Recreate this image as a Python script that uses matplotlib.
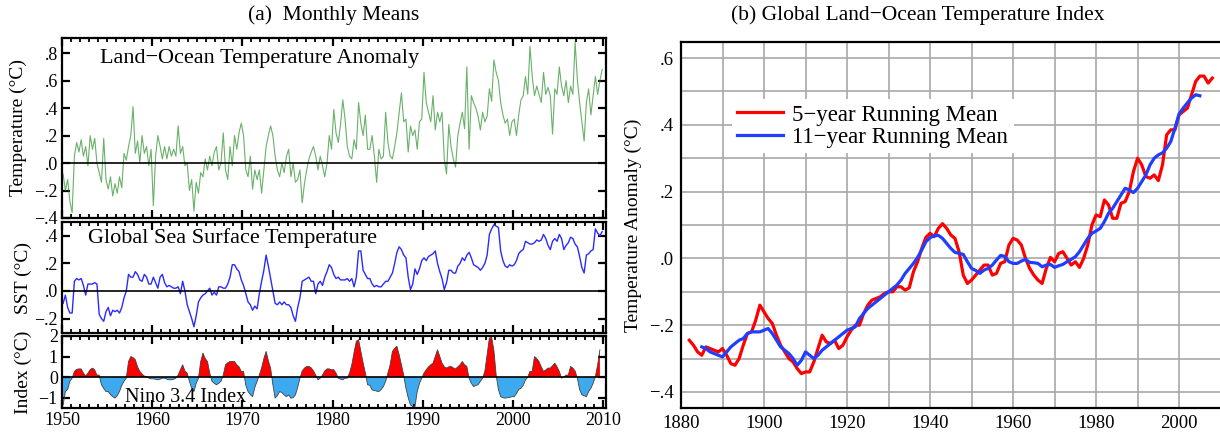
import numpy as np
import matplotlib
matplotlib.use("Agg")
from matplotlib import pyplot as plt
from matplotlib.ticker import MultipleLocator, FuncFormatter

plt.rcParams['font.family'] = ['Liberation Serif', 'DejaVu Serif']

# quarterly values, starting 1950
START = 1950
lo_anom = [
    -0.08, -0.20, -0.12, -0.28,  -0.36, 0.05, 0.15, 0.08,   0.17, 0.05, 0.12, -0.02,
    0.20, 0.10, 0.18, 0.00,      -0.07, -0.14, 0.18, -0.12,  -0.19, -0.10, -0.24, -0.15,
    -0.22, -0.10, -0.18, 0.07,   0.02, 0.12, 0.20, 0.41,    0.07, 0.16, 0.00, 0.20,
    0.07, 0.12, -0.02, 0.10,     -0.31, 0.05, 0.20, 0.12,   0.03, 0.12, 0.03, 0.12,
    0.05, 0.10, 0.05, 0.27,      0.07, 0.12, -0.02, 0.00,   -0.20, -0.12, -0.35, -0.14,
    -0.22, -0.07, -0.10, 0.03,   -0.05, 0.05, -0.02, 0.08,  0.12, -0.05, 0.00, 0.22,
    -0.05, -0.12, 0.12, -0.02,   0.20, 0.10, 0.22, 0.29,    0.20, -0.05, -0.10, 0.05,
    -0.19, -0.05, -0.12, -0.05,  -0.22, -0.05, 0.12, 0.20,  0.27, 0.20, 0.05, -0.05,
    -0.10, 0.00, -0.07, 0.05,    0.10, -0.10, 0.00, -0.14,  -0.12, -0.05, -0.29, -0.15,
    -0.05, 0.03, 0.08, 0.12,     0.05, -0.05, 0.05, -0.02,  -0.10, 0.00, 0.20, 0.10,
    0.39, 0.22, 0.15, 0.28,      0.46, 0.32, 0.12, 0.05,    0.03, 0.17, 0.10, 0.44,
    0.29, 0.20, 0.35, 0.10,      0.10, 0.20, 0.05, -0.14,   0.10, 0.03, 0.05, 0.37,
    0.15, 0.05, 0.03, 0.12,      0.22, 0.37, 0.51, 0.30,    0.32, 0.08, 0.27, 0.20,
    0.24, 0.10, 0.30, 0.32,      0.66, 0.44, 0.37, 0.30,    0.49, 0.24, 0.37, 0.30,
    0.37, 0.03, -0.08, 0.28,     0.12, 0.03, -0.03, 0.20,   0.29, 0.37, 0.25, 0.70,
    0.10, 0.49, 0.44, 0.40,      0.34, 0.24, 0.37, 0.30,    0.34, 0.54, 0.45, 0.75,
    0.66, 0.60, 0.44, 0.35,      0.29, 0.32, 0.20, 0.30,    0.32, 0.20, 0.35, 0.46,
    0.49, 0.63, 0.50, 0.85,      0.63, 0.49, 0.56, 0.50,    0.44, 0.66, 0.50, 0.55,
    0.49, 0.21, 0.54, 0.50,      0.70, 0.56, 0.49, 0.60,    0.44, 0.56, 0.50, 0.88,
    0.61, 0.44, 0.30, 0.16,      0.44, 0.54, 0.35, 0.49,    0.63, 0.50, 0.60, 0.68,
]
sst = [
    -0.09, -0.03, -0.12, -0.16,  -0.16, 0.07, 0.09, 0.08,   0.09, 0.04, -0.03, 0.05,
    0.05, 0.05, 0.06, 0.05,      -0.17, -0.20, -0.22, -0.15, -0.12, -0.18, -0.14, -0.15,
    -0.14, -0.16, -0.12, -0.05,  0.00, 0.12, 0.10, 0.10,    0.14, 0.12, 0.08, 0.07,
    0.12, 0.10, 0.05, 0.05,      0.10, 0.06, 0.02, 0.10,    0.12, 0.06, 0.03, 0.04,
    0.03, 0.02, 0.02, 0.03,      -0.02, 0.07, 0.00, -0.10,  -0.15, -0.20, -0.26, -0.18,
    -0.08, -0.05, -0.03, -0.02,  0.00, 0.02, -0.03, -0.01,  -0.03, 0.03, 0.03, 0.02,
    0.02, 0.05, 0.10, 0.19,      0.19, 0.16, 0.14, 0.08,    0.04, -0.02, -0.08, -0.10,
    -0.14, -0.11, -0.13, -0.02,  0.07, 0.15, 0.26, 0.18,    0.09, 0.00, -0.09, -0.10,
    -0.08, -0.10, -0.08, -0.10,  -0.10, -0.12, -0.18, -0.22, -0.12, -0.05, 0.07, 0.08,
    0.09, 0.10, 0.07, 0.07,      -0.02, 0.05, 0.07, 0.04,   0.10, 0.14, 0.19, 0.17,
    0.12, 0.09, 0.10, 0.08,      0.08, 0.08, 0.09, 0.07,    0.09, 0.03, 0.10, 0.29,
    0.29, 0.15, 0.12, 0.09,      0.09, 0.05, 0.03, 0.04,    0.03, 0.03, 0.05, 0.07,
    0.07, 0.10, 0.13, 0.20,      0.28, 0.32, 0.30, 0.26,    0.24, 0.10, 0.01, 0.05,
    0.16, 0.12, 0.16, 0.22,      0.24, 0.22, 0.25, 0.26,    0.27, 0.29, 0.20, 0.14,
    0.09, 0.01, 0.06, 0.15,      0.15, 0.13, 0.13, 0.18,    0.20, 0.24, 0.22, 0.26,
    0.28, 0.24, 0.19, 0.18,      0.17, 0.15, 0.17, 0.20,    0.26, 0.41, 0.45, 0.48,
    0.47, 0.46, 0.29, 0.22,      0.18, 0.17, 0.19, 0.18,    0.19, 0.22, 0.27, 0.29,
    0.30, 0.36, 0.35, 0.34,      0.34, 0.35, 0.37, 0.36,    0.37, 0.41, 0.38, 0.33,
    0.30, 0.36, 0.38, 0.36,      0.41, 0.38, 0.30, 0.33,    0.35, 0.39, 0.38, 0.34,
    0.32, 0.25, 0.17, 0.13,      0.26, 0.27, 0.29, 0.30,    0.45, 0.42, 0.40, 0.43,
]
nino = [
    -1.35, -0.70, -0.60, -0.20,  -0.05, 0.28, 0.38, 0.40,   0.40, 0.20, 0.05, 0.20,
    0.36, 0.44, 0.35, 0.10,      0.10, -0.37, -0.55, -0.70, -0.70, -0.85, -0.95, -1.02,
    -0.90, -0.70, -0.40, -0.20,  -0.05, 0.76, 1.00, 0.95,   0.85, 0.50, 0.28, 0.15,
    0.05, 0.03, -0.05, -0.08,    -0.08, -0.10, -0.13, -0.10, -0.05, -0.05, -0.10, -0.13,
    -0.13, -0.10, -0.05, 0.10,   0.36, 0.60, 0.30, 0.20,    -0.20, -0.54, -0.70, -0.30,
    -0.05, 0.76, 1.17, 0.90,     0.76, 0.20, -0.20, -0.30,  -0.37, -0.30, -0.20, 0.10,
    0.60, 0.70, 0.76, 0.76,      0.76, 0.60, 0.50, 0.28,    0.28, -0.40, -0.70, -0.85,
    -0.95, -0.50, -0.20, 0.10,   0.44, 0.90, 1.25, 0.80,    0.44, -0.37, -1.02, -0.90,
    -0.70, -0.75, -0.86, -0.95,  -0.86, -1.02, -1.00, -0.86, -0.50, -0.05, 0.30, 0.44,
    0.52, 0.52, 0.45, 0.30,      0.10, -0.13, -0.05, 0.10,  0.30, 0.40, 0.40, 0.36,
    0.36, 0.20, -0.05, -0.10,    -0.13, -0.05, -0.05, 0.20, 0.60, 1.20, 1.74, 1.82,
    1.25, 0.70, 0.20, -0.37,     -0.40, -0.62, -0.65, -0.68, -0.70, -0.60, -0.46, -0.20,
    0.20, 0.60, 1.25, 1.40,      1.50, 1.09, 0.60, 0.10,    -0.54, -1.00, -1.35, -1.43,
    -1.43, -0.70, -0.30, -0.05,  0.20, 0.36, 0.50, 0.60,    0.68, 1.00, 1.33, 1.00,
    0.68, 0.50, 0.44, 0.50,      0.52, 0.45, 0.40, 0.50,    0.60, 0.76, 0.60, 0.52,
    -0.05, -0.30, -0.46, -0.40,  -0.37, -0.20, -0.05, 0.30, 1.09, 1.90, 1.93, 1.30,
    0.10, -0.60, -0.95, -1.00,   -1.02, -1.00, -0.98, -0.95, -0.95, -0.80, -0.60, -0.54,
    -0.40, -0.13, 0.00, 0.28,    0.28, 1.00, 0.90, 0.76,    0.50, 0.28, 0.35, 0.44,
    0.44, 0.55, 0.68, 0.50,      0.28, -0.05, 0.00, 0.10,   0.10, 0.52, 0.44, 0.30,
    -0.05, -0.60, -0.86, -0.90,  -0.95, -0.70, -0.54, -0.30, 0.03, 0.60, 1.33,
]

# panel (b): running means, one value per year
rm5_years = list(range(1882, 2009))
rm5 = [
    -0.245, -0.26, -0.28, -0.29, -0.265, -0.27, -0.275, -0.28, -0.27, -0.29,
    -0.315, -0.32, -0.30, -0.26, -0.225, -0.22, -0.185, -0.14, -0.16, -0.18,
    -0.195, -0.23, -0.26, -0.28, -0.30, -0.31, -0.33, -0.345, -0.34, -0.34,
    -0.31, -0.27, -0.23, -0.25, -0.255, -0.245, -0.27, -0.26, -0.235, -0.215,
    -0.20, -0.20, -0.165, -0.14, -0.125, -0.12, -0.115, -0.105, -0.10, -0.10,
    -0.085, -0.085, -0.095, -0.088, -0.04, -0.01, 0.03, 0.063, 0.075, 0.065,
    0.09, 0.104, 0.09, 0.07, 0.06, 0.02, -0.05, -0.075, -0.065, -0.05,
    -0.035, -0.02, -0.02, -0.05, -0.045, -0.015, -0.01, 0.04, 0.06, 0.055,
    0.04, 0.00, -0.03, -0.05, -0.065, -0.075, -0.03, 0.003, -0.01, 0.015,
    0.02, 0.00, -0.02, -0.01, -0.027, 0.00, 0.04, 0.10, 0.13, 0.125,
    0.175, 0.16, 0.12, 0.12, 0.165, 0.17, 0.20, 0.26, 0.30, 0.28,
    0.245, 0.24, 0.25, 0.233, 0.28, 0.37, 0.385, 0.385, 0.43, 0.44,
    0.45, 0.49, 0.53, 0.546, 0.546, 0.525, 0.54,
]
rm11_years = list(range(1885, 2006))
rm11 = [
    -0.265, -0.27, -0.28, -0.285, -0.29, -0.295, -0.28, -0.265, -0.255, -0.245,
    -0.24, -0.225, -0.22, -0.22, -0.22, -0.215, -0.21, -0.225, -0.245, -0.265,
    -0.275, -0.285, -0.30, -0.32, -0.305, -0.28, -0.29, -0.30, -0.29, -0.275,
    -0.265, -0.255, -0.245, -0.235, -0.225, -0.215, -0.21, -0.205, -0.18, -0.165,
    -0.15, -0.14, -0.13, -0.12, -0.11, -0.10, -0.09, -0.08, -0.065, -0.045,
    -0.03, -0.015, 0.003, 0.025, 0.05, 0.062, 0.068, 0.069, 0.06, 0.045,
    0.03, 0.018, 0.015, 0.012, -0.01, -0.03, -0.036, -0.045, -0.035, -0.03,
    -0.02, -0.005, 0.009, 0.006, -0.01, -0.015, -0.015, -0.008, -0.003, -0.012,
    -0.013, -0.015, -0.025, -0.02, -0.018, -0.027, -0.022, -0.018, -0.01, -0.003,
    0.005, 0.02, 0.04, 0.06, 0.075, 0.082, 0.09, 0.11, 0.135, 0.15,
    0.17, 0.19, 0.21, 0.205, 0.197, 0.21, 0.23, 0.25, 0.28, 0.30,
    0.31, 0.316, 0.33, 0.35, 0.39, 0.433, 0.45, 0.466, 0.48, 0.49, 0.487,
]


def qtime(vals):
    return START + np.arange(len(vals)) / 4.0 + 0.125


def dotfmt(v, pos):
    if abs(v) < 1e-9:
        return '.0'
    s = ('%.1f' % abs(v))[1:]
    return ('\u2212' if v < 0 else '') + s


def intfmt(v, pos):
    return ('\u2212' if v < 0 else '') + '%d' % abs(round(v))


fig = plt.figure(figsize=(12.2, 4.33), dpi=100)
W, H = 1220.0, 433.0


def axpos(x0, y0, x1, y1):
    return [x0 / W, 1 - y1 / H, (x1 - x0) / W, (y1 - y0) / H]


ax1 = fig.add_axes(axpos(62, 38, 606, 218))
ax2 = fig.add_axes(axpos(62, 222, 606, 333))
ax3 = fig.add_axes(axpos(62, 336, 606, 408))
axb = fig.add_axes(axpos(681, 42, 1226, 408))

for ax in (ax1, ax2, ax3):
    ax.set_xlim(1950, 2010.3)
    ax.xaxis.set_major_locator(MultipleLocator(10))
    ax.xaxis.set_minor_locator(MultipleLocator(1))
    ax.tick_params(which='both', direction='in', top=True, right=True,
                   labelsize=13, width=1.6, pad=3)
    ax.tick_params(which='major', length=6)
    ax.tick_params(which='minor', length=3, width=1.3)
    for s in ax.spines.values():
        s.set_linewidth(1.6)
    ax.axhline(0, color='black', lw=1.2, zorder=3)

# land-ocean anomaly
ax1.plot(qtime(lo_anom), lo_anom, color='#2a8f2a', lw=0.8, alpha=0.7)
ax1.set_ylim(-0.4, 0.91)
ax1.yaxis.set_major_locator(MultipleLocator(0.2))
ax1.yaxis.set_major_formatter(FuncFormatter(dotfmt))
ax1.set_xticklabels([])
ax1.set_ylabel('Temperature (\u00b0C)', fontsize=14)
ax1.yaxis.set_label_coords(-0.064, 0.5)
ax1.text(0.07, 0.885, 'Land\u2212Ocean Temperature Anomaly', transform=ax1.transAxes,
         fontsize=16, va='center', ha='left')

# SST
ax2.plot(qtime(sst), sst, color='#2a2aff', lw=1.0)
ax2.set_ylim(-0.305, 0.5)
ax2.yaxis.set_major_locator(MultipleLocator(0.2))
ax2.yaxis.set_major_formatter(FuncFormatter(dotfmt))
ax2.set_xticklabels([])
ax2.set_ylabel('SST (\u00b0C)', fontsize=14)
ax2.yaxis.set_label_coords(-0.056, 0.5)
ax2.text(0.048, 0.855, 'Global Sea Surface Temperature', transform=ax2.transAxes,
         fontsize=16, va='center', ha='left')

# Nino 3.4
tn = qtime(nino)
nv = np.array(nino)
ax3.fill_between(tn, nv, 0, where=nv >= 0, interpolate=True, color='#ff0000', lw=0)
ax3.fill_between(tn, nv, 0, where=nv <= 0, interpolate=True, color='#3daaf0', lw=0)
ax3.plot(tn, nv, color='#404040', lw=0.6)
ax3.set_ylim(-1.5, 2.0)
ax3.yaxis.set_major_locator(MultipleLocator(1))
ax3.yaxis.set_major_formatter(FuncFormatter(intfmt))
ax3.xaxis.set_major_formatter(FuncFormatter(lambda v, p: '%d' % v))
ax3.set_ylabel('Index (\u00b0C)', fontsize=14)
ax3.yaxis.set_label_coords(-0.056, 0.5)
ax3.text(0.116, 0.14, 'Nino 3.4 Index', transform=ax3.transAxes,
         fontsize=14.5, va='center', ha='left')

# panel (b)
axb.plot(rm5_years, rm5, color='#ff0000', lw=2.3, label='5\u2212year Running Mean')
axb.plot(rm11_years, rm11, color='#1f3fff', lw=2.3, label='11\u2212year Running Mean')
axb.set_xlim(1880, 2011.3)
axb.set_ylim(-0.448, 0.648)
axb.xaxis.set_major_locator(MultipleLocator(20))
axb.xaxis.set_minor_locator(MultipleLocator(10))
axb.yaxis.set_major_locator(MultipleLocator(0.2))
axb.yaxis.set_minor_locator(MultipleLocator(0.1))
axb.yaxis.set_major_formatter(FuncFormatter(dotfmt))
axb.grid(which='both', color='#a8a8a8', lw=1.2)
axb.set_axisbelow(True)
axb.tick_params(which='both', length=0, labelsize=13.5, pad=5)
for s in axb.spines.values():
    s.set_linewidth(1.6)
axb.spines['right'].set_visible(False)
axb.set_ylabel('Temperature Anomaly (\u00b0C)', fontsize=14)
axb.yaxis.set_label_coords(-0.072, 0.5)
leg = axb.legend(loc='upper left', bbox_to_anchor=(0.093, 0.845), fontsize=16.5,
                 frameon=True, framealpha=1, edgecolor='none', fancybox=False,
                 handlelength=2.0, handletextpad=0.4, borderpad=0.25,
                 labelspacing=0.05, borderaxespad=0)

fig.text(334 / W, 1 - 15 / H, '(a)  Monthly Means', ha='center', va='center', fontsize=15.5)
fig.text(918 / W, 1 - 15 / H, '(b) Global Land\u2212Ocean Temperature Index',
         ha='center', va='center', fontsize=15.5)

fig.savefig('out.png', dpi=100)
